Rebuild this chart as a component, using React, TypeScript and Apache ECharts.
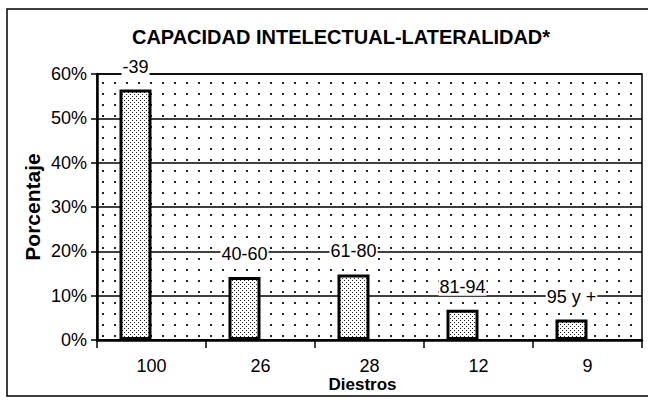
import React, { useEffect, useRef } from 'react';
import * as echarts from 'echarts';

const categories = ['100', '26', '28', '12', '9'];
const rangeLabels = ['-39', '40-60', '61-80', '81-94', '95 y +'];
const percentages = [56.5, 14.2, 14.8, 6.8, 4.6];
const spacer = [null, null, null, null, null];

const FONT = "'Liberation Sans', Arial, sans-serif";

function makeTile(w: number, h: number, dots: [number, number, number, number][], color: string) {
  const c = document.createElement('canvas');
  c.width = w;
  c.height = h;
  const ctx = c.getContext('2d')!;
  ctx.fillStyle = '#ffffff';
  ctx.fillRect(0, 0, w, h);
  ctx.fillStyle = color;
  dots.forEach(([x, y, dw, dh]) => ctx.fillRect(x, y, dw, dh));
  return c;
}

export default function App() {
  const ref = useRef<HTMLDivElement>(null);

  useEffect(() => {
    if (!ref.current) return;
    const chart = echarts.init(ref.current, undefined, { renderer: 'svg' });

    const bgTile = makeTile(12, 11, [[6, 5, 2, 2]], '#222');
    const barTile = makeTile(4, 4, [[0, 0, 1, 1], [2, 2, 1, 1]], '#222');

    const bgPattern: any = { image: bgTile, repeat: 'repeat', imageWidth: 12, imageHeight: 11 };
    const barPattern: any = { image: barTile, repeat: 'repeat', imageWidth: 4, imageHeight: 4 };

    chart.setOption({
      animation: false,
      backgroundColor: '#ffffff',
      title: {
        text: 'CAPACIDAD INTELECTUAL-LATERALIDAD*',
        left: 336,
        top: 22,
        textAlign: 'center',
        textStyle: { fontFamily: FONT, fontSize: 20, fontWeight: 'bold', color: '#000' },
      },
      graphic: [
        {
          type: 'rect',
          shape: { x: 7, y: 9, width: 700, height: 387 },
          style: { fill: 'transparent', stroke: '#000', lineWidth: 1.5 },
          z: -1,
        },
      ],
      grid: {
        left: 97,
        right: 6,
        top: 74,
        bottom: 71,
        show: true,
        borderColor: '#000',
        borderWidth: 1.5,
        backgroundColor: bgPattern,
      },
      xAxis: {
        type: 'category',
        data: categories,
        name: 'Diestros',
        nameLocation: 'middle',
        nameGap: 36,
        nameMoveOverlap: false,
        nameTextStyle: { fontFamily: FONT, fontSize: 17, fontWeight: 'bold', color: '#000', padding: [0, 14, 0, 0] },
        axisLine: { lineStyle: { color: '#000', width: 2.5 } },
        axisTick: { show: true, length: 8, lineStyle: { color: '#000', width: 1.5 } },
        axisLabel: { fontFamily: FONT, fontSize: 18, color: '#000', margin: 17 },
      },
      yAxis: {
        type: 'value',
        min: 0,
        max: 60,
        interval: 10,
        name: 'Porcentaje',
        nameLocation: 'middle',
        nameGap: 54,
        nameMoveOverlap: false,
        nameTextStyle: { fontFamily: FONT, fontSize: 21, fontWeight: 'bold', color: '#000' },
        axisLine: { show: true, lineStyle: { color: '#000', width: 2.5 } },
        axisTick: { show: true, length: 6, lineStyle: { color: '#000', width: 1.5 } },
        axisLabel: { fontFamily: FONT, fontSize: 18, color: '#000', margin: 10, formatter: '{value}%' },
        splitLine: { show: true, lineStyle: { color: '#000', width: 1.5 } },
      },
      series: [
        {
          type: 'bar',
          name: 'Diestros',
          data: percentages,
          barWidth: 32,
          barGap: '0%',
          itemStyle: { color: barPattern, borderColor: '#000', borderWidth: 3 },
          label: {
            show: true,
            position: 'top',
            distance: 14,
            fontFamily: FONT,
            fontSize: 18,
            color: '#000',
            backgroundColor: '#ffffff',
            padding: [0, 1],
            formatter: (p: any) => rangeLabels[p.dataIndex],
          },
        },
        {
          type: 'bar',
          name: 'spacer',
          data: spacer,
          barWidth: 32,
          silent: true,
        },
      ],
    });

    return () => chart.dispose();
  }, []);

  return (
    <div
      ref={ref}
      style={{ position: 'absolute', left: 0, top: 0, width: 648, height: 411 }}
    />
  );
}
